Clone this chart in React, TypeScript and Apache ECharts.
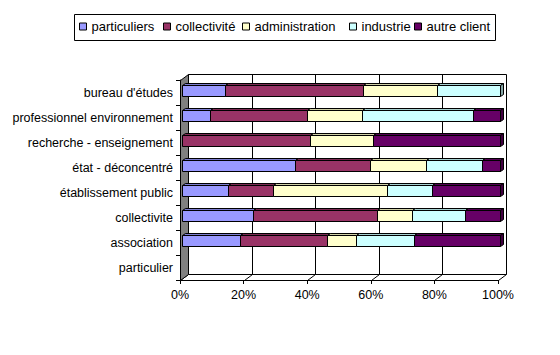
import React, { useEffect, useRef } from "react";
import * as echarts from "echarts";

const categories = [
  "bureau d'études",
  "professionnel environnement",
  "recherche - enseignement",
  "état - déconcentré",
  "établissement public",
  "collectivite",
  "association",
  "particulier",
];
const seriesNames = ["particuliers", "collectivité", "administration", "industrie", "autre client"];
const particuliers = [13.3, 8.7, 0, 35.3, 14.3, 22.2, 18.2, 0];
const collectivite = [43.3, 30.4, 40, 23.5, 14.3, 38.9, 27.3, 0];
const administration = [23.3, 17.4, 20, 17.6, 35.7, 11.1, 9.1, 0];
const industrie = [20, 34.8, 0, 17.6, 14.3, 16.7, 18.2, 0];
const autreClient = [0, 8.7, 40, 5.9, 21.4, 11.1, 27.3, 0];
const xTicks = [0, 20, 40, 60, 80, 100];

const colors = ["#9999FF", "#993366", "#FFFFCC", "#CCFFFF", "#660066"];
const legendLefts = [79, 163, 242, 349, 414];
const FONT = "'Liberation Sans', Arial, sans-serif";

// wall depth offset
const WDX = 8;
const WDY = -6;

function shade(hex: string, f: number) {
  const n = parseInt(hex.slice(1), 16);
  const r = Math.round(((n >> 16) & 255) * f);
  const g = Math.round(((n >> 8) & 255) * f);
  const b = Math.round((n & 255) * f);
  return "rgb(" + r + "," + g + "," + b + ")";
}

const px = (v: number) => Math.round(v) + 0.5;

export default function App() {
  const ref = useRef<HTMLDivElement>(null);
  useEffect(() => {
    if (!ref.current) return;
    const chart = echarts.init(ref.current, undefined, { renderer: "svg" });
    const all = [particuliers, collectivite, administration, industrie, autreClient];
    const totals = categories.map((_, i) => all.reduce((s, arr) => s + arr[i], 0));
    const cum = categories.map(() => 0);
    const barSeries = all.map((arr, si) => {
      const data = categories.map((_, ci) => {
        const t = totals[ci] || 1;
        const s = (cum[ci] / t) * 100;
        cum[ci] += arr[ci];
        const e = (cum[ci] / t) * 100;
        return [s, e, ci];
      });
      const color = colors[si];
      return {
        type: "custom",
        name: seriesNames[si],
        itemStyle: { color },
        z: 3,
        encode: { x: [0, 1], y: 2 },
        data,
        renderItem: (params: any, api: any) => {
          const s = api.value(0);
          const e = api.value(1);
          const ci = api.value(2);
          if (e - s <= 0.0001) return { type: "group", children: [] };
          const p0 = api.coord([s, ci]);
          const p1 = api.coord([e, ci]);
          const band = api.size([0, 1])[1];
          const h = Math.round(band * 0.43);
          const fx = 2.4, fy = -1.8, dx = 3, dy = -2;
          const x0 = px(p0[0] + fx);
          const x1 = px(p1[0] + fx);
          const yt = px(p0[1] + fy - h / 2);
          const yb = yt + h;
          return {
            type: "group",
            children: [
              {
                type: "polygon",
                shape: { points: [[x0, yt], [x0 + dx, yt + dy], [x1 + dx, yt + dy], [x1, yt]] },
                style: { fill: shade(color, 0.82), stroke: "#000", lineWidth: 1 },
              },
              {
                type: "polygon",
                shape: { points: [[x1, yt], [x1 + dx, yt + dy], [x1 + dx, yb + dy], [x1, yb]] },
                style: { fill: shade(color, 0.65), stroke: "#000", lineWidth: 1 },
              },
              {
                type: "rect",
                shape: { x: x0, y: yt, width: x1 - x0, height: h },
                style: { fill: color, stroke: "#000", lineWidth: 1 },
              },
            ],
          };
        },
      };
    });

    const wallSeries = {
      type: "custom",
      name: "walls",
      z: 1,
      silent: true,
      encode: { x: 0, y: 1 },
      data: xTicks.map((v) => [v, 0]),
      renderItem: (params: any, api: any) => {
        const cs = params.coordSys;
        const v = api.value(0);
        const p = api.coord([v, 0]);
        const x = px(p[0]);
        const top = px(cs.y);
        const bottom = px(cs.y + cs.height);
        const left = px(cs.x);
        const right = px(cs.x + cs.width);
        const children: any[] = [
          {
            type: "line",
            shape: { x1: x + WDX, y1: top + WDY, x2: x + WDX, y2: bottom + WDY },
            style: { stroke: "#000", lineWidth: 1 },
          },
          {
            type: "line",
            shape: { x1: x, y1: bottom, x2: x + WDX, y2: bottom + WDY },
            style: { stroke: "#000", lineWidth: 1 },
          },
        ];
        if (params.dataIndex === 0) {
          children.unshift(
            {
              type: "line",
              shape: { x1: left + WDX, y1: top + WDY, x2: right + WDX, y2: top + WDY },
              style: { stroke: "#000", lineWidth: 1 },
            },
            {
              type: "line",
              shape: { x1: left + WDX, y1: bottom + WDY, x2: right + WDX, y2: bottom + WDY },
              style: { stroke: "#000", lineWidth: 1 },
            }
          );
          children.push({
            type: "polygon",
            shape: {
              points: [
                [left, top],
                [left + WDX, top + WDY],
                [left + WDX, bottom + WDY],
                [left, bottom],
              ],
            },
            style: { fill: "#808080", stroke: "#000", lineWidth: 1 },
          });
        }
        return { type: "group", children };
      },
    };

    const legends = seriesNames.map((name, i) => ({
      data: [name],
      left: legendLefts[i],
      top: 20,
      padding: 0,
      icon: "rect",
      itemWidth: 7,
      itemHeight: 7,
      selectedMode: false,
      itemStyle: { borderColor: "#000", borderWidth: 1 },
      textStyle: { fontSize: 13, color: "#000", fontFamily: FONT },
    }));

    chart.setOption({
      animation: false,
      backgroundColor: "#ffffff",
      textStyle: { fontFamily: FONT },
      grid: { left: 180, right: 62, top: 80, bottom: 75 },
      legend: legends,
      graphic: [
        {
          type: "rect",
          shape: { x: 74.5, y: 14.5, width: 421, height: 26 },
          style: { fill: "none", stroke: "#000", lineWidth: 1 },
          silent: true,
        },
      ],
      xAxis: {
        type: "value",
        min: 0,
        max: 100,
        interval: 20,
        axisLine: { show: true, lineStyle: { color: "#000", width: 1 } },
        axisTick: { show: true, length: 4, lineStyle: { color: "#000" } },
        splitLine: { show: false },
        axisLabel: {
          formatter: "{value}%",
          color: "#000",
          fontSize: 12.5,
          fontFamily: FONT,
          margin: 8,
        },
      },
      yAxis: {
        type: "category",
        inverse: true,
        data: categories,
        axisLine: { show: true, lineStyle: { color: "#000", width: 1 } },
        axisTick: { show: true, length: 4, lineStyle: { color: "#000" } },
        splitLine: { show: false },
        axisLabel: { color: "#000", fontSize: 12.5, fontFamily: FONT, margin: 7 },
      },
      series: [wallSeries, ...barSeries],
    });
    return () => chart.dispose();
  }, []);
  return (
    <div
      ref={ref}
      style={{ position: "fixed", left: 0, top: 0, width: 560, height: 355, background: "#fff" }}
    />
  );
}
